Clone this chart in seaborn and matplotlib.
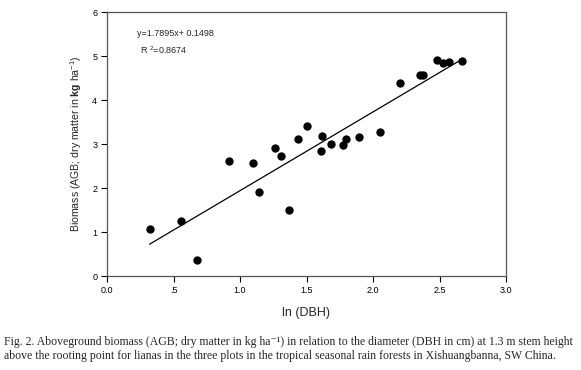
import matplotlib
matplotlib.use("Agg")
import matplotlib.pyplot as plt
import seaborn as sns
import numpy as np
import pandas as pd

ln_dbh = [0.32, 0.56, 0.68, 0.917, 1.097, 1.14, 1.26, 1.305, 1.367, 1.435, 1.50,
          1.61, 1.618, 1.685, 1.778, 1.796, 1.898, 2.05, 2.204, 2.355, 2.375,
          2.48, 2.53, 2.575, 2.672]
biomass = [1.06, 1.24, 0.36, 2.62, 2.56, 1.90, 2.90, 2.73, 1.50, 3.11, 3.40,
           2.84, 3.18, 2.99, 2.97, 3.12, 3.15, 3.28, 4.39, 4.56, 4.56,
           4.90, 4.85, 4.86, 4.89]
slope = 1.7895
intercept = 0.1498
r2 = 0.8674
x_ticks = [0.0, 0.5, 1.0, 1.5, 2.0, 2.5, 3.0]
x_tick_labels = ["0.0", ".5", "1.0", "1.5", "2.0", "2.5", "3.0"]
y_ticks = [0, 1, 2, 3, 4, 5, 6]

df = pd.DataFrame({"ln_dbh": ln_dbh, "biomass": biomass})

sns.set_style("white")
plt.rcParams["font.family"] = ["Liberation Sans", "DejaVu Sans"]
plt.rcParams["mathtext.fontset"] = "custom"
plt.rcParams["mathtext.rm"] = "Liberation Sans"
plt.rcParams["mathtext.bf"] = "Liberation Sans:bold"

fig = plt.figure(figsize=(5.81, 3.70), dpi=100)
ax = fig.add_axes([107 / 581, 1 - 276 / 370, 399 / 581, 264 / 370])

sns.scatterplot(data=df, x="ln_dbh", y="biomass", ax=ax, color="black",
                s=36, edgecolor="black", linewidth=0, marker="o", zorder=3)

xl = np.array([min(ln_dbh), max(ln_dbh)])
sns.lineplot(x=xl, y=slope * xl + intercept, ax=ax, color="black",
             linewidth=0.9, zorder=2)

ax.set_xlim(0, 3)
ax.set_ylim(0, 6)
ax.set_xticks(x_ticks)
ax.set_xticklabels(x_tick_labels)
ax.set_yticks(y_ticks)
ax.tick_params(axis="both", direction="out", length=4, width=0.8,
               labelsize=6.5, colors="black", pad=3,
               bottom=True, left=True)
for sp in ax.spines.values():
    sp.set_color("#555555")
    sp.set_linewidth(0.9)

ax.set_xlabel("ln (DBH)", fontsize=9, labelpad=9)
ax.set_ylabel(r"Biomass (AGB; dry matter in $\mathbf{kg}$ ha$^{\mathrm{-1}}$)",
              fontsize=7.6, labelpad=6)

ax.text(0.225, 5.52, "y=1.7895x+ 0.1498", fontsize=6.5, ha="left", va="center")
ax.text(0.25, 5.14, "R $^{\mathrm{2}}$=%.4f" % r2, fontsize=6.5, ha="left", va="center")

cap1 = ("Fig. 2. Aboveground biomass (AGB; dry matter in kg ha\u207b\u00b9) in relation to the "
        "diameter (DBH in cm) at 1.3 m stem height")
cap2 = ("above the rooting point for lianas in the three plots in the tropical seasonal "
        "rain forests in Xishuangbanna, SW China.")
fig.text(4 / 581, 1 - 342 / 370, cap1, fontsize=8.5,
         family=["Liberation Serif", "DejaVu Serif"], ha="left", va="center")
fig.text(4 / 581, 1 - 356 / 370, cap2, fontsize=8.5,
         family=["Liberation Serif", "DejaVu Serif"], ha="left", va="center")

fig.savefig("out.png", dpi=100)
